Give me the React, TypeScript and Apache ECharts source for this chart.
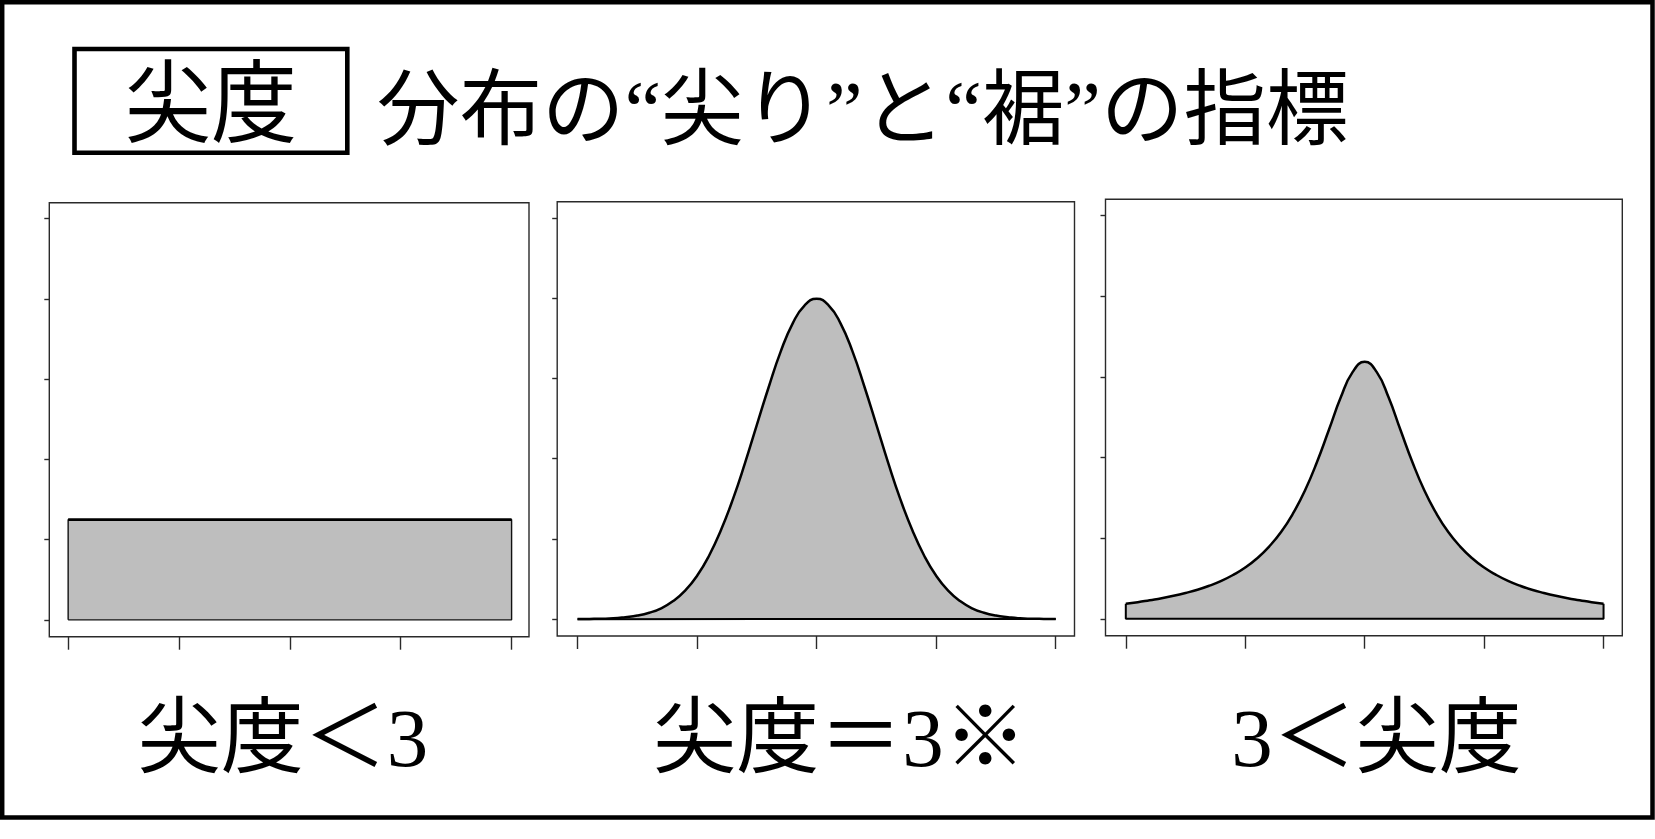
import React, { useEffect, useRef } from "react";
import * as echarts from "echarts";

// ---- data ----
const xTicks = [-2, -1, 0, 1, 2];
const yTicks = [0, 0.2, 0.4, 0.6, 0.8, 1.0];

const curveX = [
  -2.0, -1.9, -1.8, -1.7, -1.6, -1.5, -1.4, -1.3, -1.2, -1.1, -1.0,
  -0.9, -0.8, -0.7, -0.6, -0.5, -0.4, -0.3, -0.2, -0.1, 0.0,
  0.1, 0.2, 0.3, 0.4, 0.5, 0.6, 0.7, 0.8, 0.9, 1.0,
  1.1, 1.2, 1.3, 1.4, 1.5, 1.6, 1.7, 1.8, 1.9, 2.0,
];

const uniformX = [-2, 2];
const uniformDensity = [0.25, 0.25];

const normalDensity = [
  0.0003, 0.0006, 0.001, 0.002, 0.005, 0.009, 0.016, 0.027, 0.045, 0.071, 0.108,
  0.158, 0.222, 0.299, 0.388, 0.484, 0.579, 0.667, 0.737, 0.782, 0.798,
  0.782, 0.737, 0.667, 0.579, 0.484, 0.388, 0.299, 0.222, 0.158, 0.108,
  0.071, 0.045, 0.027, 0.016, 0.009, 0.005, 0.002, 0.001, 0.0006, 0.0003,
];

const heavyTailDensity = [
  0.037, 0.041, 0.046, 0.051, 0.057, 0.064, 0.072, 0.082, 0.094, 0.109, 0.127,
  0.150, 0.179, 0.215, 0.261, 0.318, 0.388, 0.468, 0.549, 0.612, 0.637,
  0.612, 0.549, 0.468, 0.388, 0.318, 0.261, 0.215, 0.179, 0.150, 0.127,
  0.109, 0.094, 0.082, 0.072, 0.064, 0.057, 0.051, 0.046, 0.041, 0.037,
];

const mainTitle = "分布の“尖り”と“裾”の指標";
const boxLabel = "尖度";
const panelLabels = ["尖度＜3", "尖度＝3※", "3＜尖度"];

// ---- layout / style ----
const FONT = "'Liberation Serif', 'Noto Sans CJK JP', serif";
const FRAME = "#2a2a2a";
const FILL = "#BEBEBE";
const grids = [
  { left: 49.3, top: 202.7, width: 479.7, height: 434 },
  { left: 557.2, top: 201.7, width: 517.3, height: 434.3 },
  { left: 1105.5, top: 199.3, width: 516.8, height: 436.4 },
];
const labelCenters = [283, 840, 1376.5];

export default function App() {
  const ref = useRef<HTMLDivElement>(null);

  useEffect(() => {
    if (!ref.current) return;
    const chart = echarts.init(ref.current, null, { renderer: "svg" });

    const xAxes = grids.map((_, i) => ({
      type: "value",
      gridIndex: i,
      min: -2.17,
      max: 2.157,
      axisLine: { show: false, onZero: false },
      axisTick: {
        show: true,
        inside: false,
        length: 13,
        customValues: xTicks,
        lineStyle: { color: FRAME, width: 1.4 },
      },
      axisLabel: { show: false, customValues: xTicks },
      splitLine: { show: false },
    }));
    const yAxes = grids.map((_, i) => ({
      type: "value",
      gridIndex: i,
      min: -0.042,
      max: 1.04,
      axisLine: { show: false, onZero: false },
      axisTick: {
        show: true,
        inside: false,
        length: 5,
        customValues: yTicks,
        lineStyle: { color: FRAME, width: 1.4 },
      },
      axisLabel: { show: false, customValues: yTicks },
      splitLine: { show: false },
    }));

    const base = { type: "line", symbol: "none", silent: true, z: 2 };
    const lastU = uniformX.length - 1;

    const curveSeries = (idx: number, dens: number[]) => [
      {
        ...base,
        xAxisIndex: idx,
        yAxisIndex: idx,
        smooth: true,
        data: curveX.map((x, i) => [x, dens[i]]),
        areaStyle: { color: FILL, opacity: 1 },
        lineStyle: { color: "#000", width: 2.5 },
      },
      {
        ...base,
        xAxisIndex: idx,
        yAxisIndex: idx,
        z: 3,
        data: [
          [curveX[curveX.length - 1], dens[dens.length - 1]],
          [curveX[curveX.length - 1], 0],
          [curveX[0], 0],
          [curveX[0], dens[0]],
        ],
        lineStyle: { color: "#000", width: 2 },
      },
    ];

    const series = [
      {
        ...base,
        xAxisIndex: 0,
        yAxisIndex: 0,
        data: [
          [uniformX[0], 0],
          ...uniformX.map((x, i) => [x, uniformDensity[i]]),
          [uniformX[lastU], 0],
          [uniformX[0], 0],
        ],
        areaStyle: { color: FILL, opacity: 1 },
        lineStyle: { color: "#111", width: 1.4 },
      },
      {
        ...base,
        xAxisIndex: 0,
        yAxisIndex: 0,
        z: 3,
        data: uniformX.map((x, i) => [x, uniformDensity[i]]),
        lineStyle: { color: "#000", width: 2.6 },
      },
      ...curveSeries(1, normalDensity),
      ...curveSeries(2, heavyTailDensity),
    ];

    const graphic = [
      {
        type: "rect",
        shape: { x: 2.2, y: 2.2, width: 1650.3, height: 815.3 },
        style: { fill: "none", stroke: "#000", lineWidth: 4.5 },
        z: 10,
      },
      {
        type: "rect",
        shape: { x: 74.5, y: 49, width: 272.8, height: 103.8 },
        style: { fill: "none", stroke: "#000", lineWidth: 4.6 },
        z: 10,
      },
      {
        type: "text",
        x: 211,
        y: 104,
        scaleX: 1,
        scaleY: 1.05,
        style: {
          text: boxLabel,
          x: 0,
          y: 0,
          align: "center",
          verticalAlign: "middle",
          font: `86px ${FONT}`,
          fill: "#000",
        },
        z: 10,
      },
      {
        type: "text",
        x: 377,
        y: 110,
        style: {
          text: mainTitle,
          align: "left",
          verticalAlign: "middle",
          font: `82.5px ${FONT}`,
          fill: "#000",
        },
        z: 10,
      },
      ...panelLabels.map((t, i) => ({
        type: "text",
        x: labelCenters[i],
        y: 738,
        style: {
          text: t,
          align: "center",
          verticalAlign: "middle",
          font: `83px ${FONT}`,
          fill: "#000",
        },
        z: 10,
      })),
    ];

    chart.setOption({
      animation: false,
      backgroundColor: "#fff",
      grid: grids.map((g) => ({
        ...g,
        show: true,
        borderColor: FRAME,
        borderWidth: 1.4,
        backgroundColor: "transparent",
        containLabel: false,
      })),
      xAxis: xAxes,
      yAxis: yAxes,
      series,
      graphic,
    });

    return () => chart.dispose();
  }, []);

  return (
    <div
      ref={ref}
      style={{
        position: "absolute",
        left: 0,
        top: 0,
        width: 1655,
        height: 839,
        background: "#fff",
      }}
    />
  );
}
